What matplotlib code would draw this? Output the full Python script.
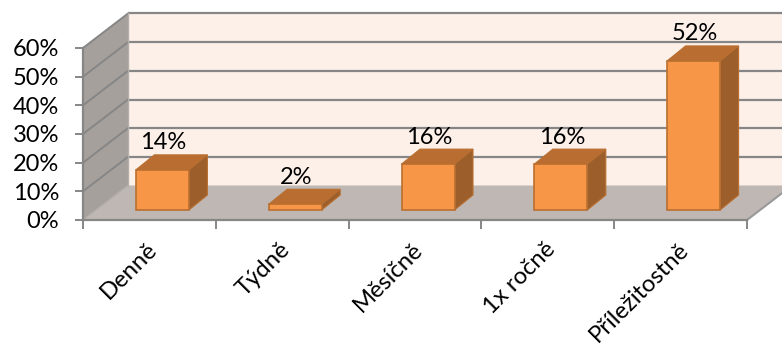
import matplotlib
matplotlib.use("Agg")
import matplotlib.pyplot as plt
from matplotlib.patches import Polygon
from matplotlib.transforms import ScaledTranslation

categories = ["Denně", "Týdně", "Měsíčně", "1x ročně", "Příležitostně"]
values = [14, 2, 16, 16, 52]
y_ticks = [0, 10, 20, 30, 40, 50, 60]
y_labels = ["0%", "10%", "20%", "30%", "40%", "50%", "60%"]

W, H = 782, 347
L, R, T, B = 83, 747, 48, 220
FS = 17
plt.rcParams["font.family"] = ["Lato", "DejaVu Sans"]
fig = plt.figure(figsize=(W / 100, H / 100), dpi=100)
ax = fig.add_axes([L / W, 1 - B / H, (R - L) / W, (B - T) / H])
ax.set_xlim(0, 5)
ax.set_ylim(0, 60)
ax.patch.set_visible(False)

ux = 5 / (R - L)      # data units per pixel
uy = 60 / (B - T)
DX, DY = 45 * ux, 34.5 * uy
GRID = "#868686"


def poly(pts, **kw):
    p = Polygon(pts, closed=True, clip_on=False, **kw)
    ax.add_patch(p)
    return p


# back wall (runs off the right edge of the picture), floor, side wall
poly([(DX, DY), (DX, 60 + DY), (5.5, 60 + DY), (5.5, DY)], fc="#FDF0E9", ec="none", zorder=1)
poly([(0, 0), (DX, DY), (5 + DX, DY), (5, 0)], fc="#BFB7B3", ec="none", zorder=1.5)
poly([(0, 0), (0, 60), (DX, 60 + DY), (DX, DY)], fc="#A6A09C", ec="none", zorder=1.5)

for v in y_ticks[1:]:
    ax.plot([DX, 5.5], [v + DY, v + DY], color=GRID, lw=1.6, clip_on=False, zorder=2, solid_capstyle="butt")
    ax.plot([0, DX], [v, v + DY], color=GRID, lw=1.4, clip_on=False, zorder=2)
ax.plot([DX, DX], [DY, 60 + DY], color="#B5AFAB", lw=1, clip_on=False, zorder=2)
ax.plot([0, DX], [0, DY], color="#B5AFAB", lw=1, clip_on=False, zorder=2)
ax.plot([5, 5 + DX], [0, DY], color="#999999", lw=1.5, clip_on=False, zorder=2)

# bars
bar_w = 53 * ux
base = 10 * uy
shift = 13 * ux
ddx, ddy = 18.5 * ux, 15 * uy
FRONT, TOP, SIDE, EDGE = "#F79646", "#B96D31", "#9C5F2B", "#B96F30"
for i, (c, v) in enumerate(zip(categories, values)):
    x0 = i + 0.5 + shift - bar_w / 2
    x1 = x0 + bar_w
    y0, y1 = base, base + v
    ax.bar(x0, v, width=bar_w, bottom=base, align="edge", color=FRONT, edgecolor=EDGE, lw=1.2, zorder=4)
    poly([(x0, y1), (x0 + ddx, y1 + ddy), (x1 + ddx, y1 + ddy), (x1, y1)], fc=TOP, ec=EDGE, lw=0.8, zorder=3)
    poly([(x1, y0), (x1, y1), (x1 + ddx, y1 + ddy), (x1 + ddx, y0 + ddy)], fc=SIDE, ec=EDGE, lw=0.8, zorder=3)
    ax.text((x0 + x1) / 2 + 1 * ux, y1 + 27 * uy, f"{v}%", ha="center", va="center",
            fontsize=FS, color="black", zorder=6, clip_on=False)

# axes
for s in ["top", "right"]:
    ax.spines[s].set_visible(False)
for s in ["left", "bottom"]:
    ax.spines[s].set_color(GRID)
    ax.spines[s].set_linewidth(1.6)
    ax.spines[s].set_zorder(5)
ax.set_yticks(y_ticks, y_labels, fontsize=FS)
ax.tick_params(axis="y", length=5.8, width=1.4, color=GRID, pad=11.5)
ax.set_xticks(range(6), [""] * 6)
ax.tick_params(axis="x", which="major", length=6.5, width=1.4, color=GRID)
ax.set_xticks([i + 0.5 for i in range(5)], categories, minor=True, fontsize=17.2,
              rotation=45, ha="right", rotation_mode="anchor")
ax.tick_params(axis="x", which="minor", length=0, pad=13.5)
shift_tf = ScaledTranslation(-3 / 100, 0, fig.dpi_scale_trans)
for lab in ax.get_xticklabels(minor=True):
    lab.set_transform(lab.get_transform() + shift_tf)

fig.savefig("out.png", dpi=100, facecolor="white")
